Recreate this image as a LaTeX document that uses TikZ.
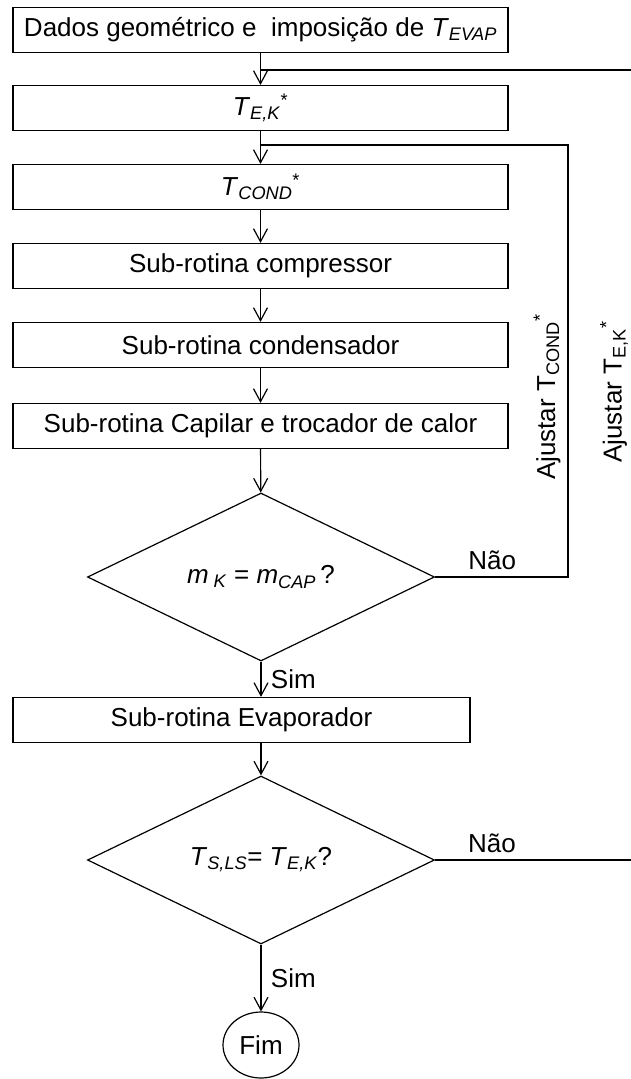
\documentclass[tikz,border=0pt]{standalone}
\usepackage{fontspec}
\setmainfont{Liberation Sans}
\usepackage{xcolor}
\usetikzlibrary{shapes.geometric}
\usetikzlibrary{arrows.meta}
\usetikzlibrary{calc}

\newcommand{\Tvar}[1]{\textit{T}\textsubscript{\textit{#1}}}
\newcommand{\mvar}[1]{\textit{m}\textsubscript{\textit{#1}}}

\tikzset{
  flowbox/.style={draw, line width=1.2pt, minimum width=495pt, minimum height=45pt, inner sep=0pt},
  decision/.style={draw, diamond, aspect=2.07, line width=1.2pt, minimum width=347pt, minimum height=168pt, inner sep=0pt},
  flow/.style={line width=1.2pt, -{Straight Barb[length=13pt,width=14pt]}},
  loopline/.style={line width=1.2pt},
}

\begin{document}
\begin{tikzpicture}[x=1pt, y=-1pt, font=\fontsize{26}{30}\selectfont]
  \useasboundingbox (0,0) rectangle (631,1079);

  % Blocks
  \node[flowbox] (dados) at (260.5,30) {Dados geométrico e\ \ imposição de \Tvar{EVAP}};
  \node[flowbox] (tek) at (260.5,108) {\Tvar{E,K}\textsuperscript{*}};
  \node[flowbox] (tcond) at (260.5,187) {\Tvar{COND}\textsuperscript{*}};
  \node[flowbox] (comp) at (260.5,266) {Sub-rotina compressor};
  \node[flowbox] (cond) at (260.5,345) {Sub-rotina condensador};
  \node[flowbox] (cap) at (260.5,426) {Sub-rotina Capilar e trocador de calor};

    % tests
    \node[decision] (mtest) at (261,577) {\mvar{}\,\textsubscript{\textit{K}} = \mvar{CAP}\,?};
    \node[flowbox, minimum width=457pt] (evap) at (241.5,720) {Sub-rotina Evaporador};
    \node[decision] (ttest) at (261,860) {\Tvar{S,LS}= \Tvar{E,K}?};
    \node[draw, ellipse, line width=1.2pt, minimum width=76pt, minimum height=66pt] (fim) at (261,1045) {Fim};

  % main flow
  \draw[flow] (dados) -- (tek);
  \draw[flow] (tek) -- (tcond);
  \draw[flow] (tcond) -- (comp);
  \draw[flow] (comp) -- (cond);
  \draw[flow] (cond) -- (cap);
  \draw[flow] (cap) -- (mtest);
  \draw[flow] (mtest.south) -- (mtest.south |- evap.north) node[midway, right=6pt] {Sim};
  \draw[flow] (mtest.south |- evap.south) -- (ttest.north);
  \draw[flow] (ttest) -- (fim) node[midway, right=6pt] {Sim};

  % loops
  \coordinate (condloop) at (568,145);
  \coordinate (evapin) at (631,70);
  \coordinate (evapout) at (631,860);
  \draw[loopline] (mtest.east) -- (condloop |- mtest.east) node[pos=0.43, above=3pt] {Não} -- (condloop) -- (tek.south |- condloop);
  \draw[loopline] (ttest.east) -- (evapout) node[pos=0.29, above=3pt] {Não};
  \draw[loopline] (evapin) -- (dados.south |- evapin);
  \node[rotate=90] (ajcond) at (547,397) {Ajustar T\textsubscript{COND}\textsuperscript{*}};
  \node[rotate=90] (ajek) at (614,392) {Ajustar T\textsubscript{E,K}\textsuperscript{*}};

\end{tikzpicture}
\end{document}
